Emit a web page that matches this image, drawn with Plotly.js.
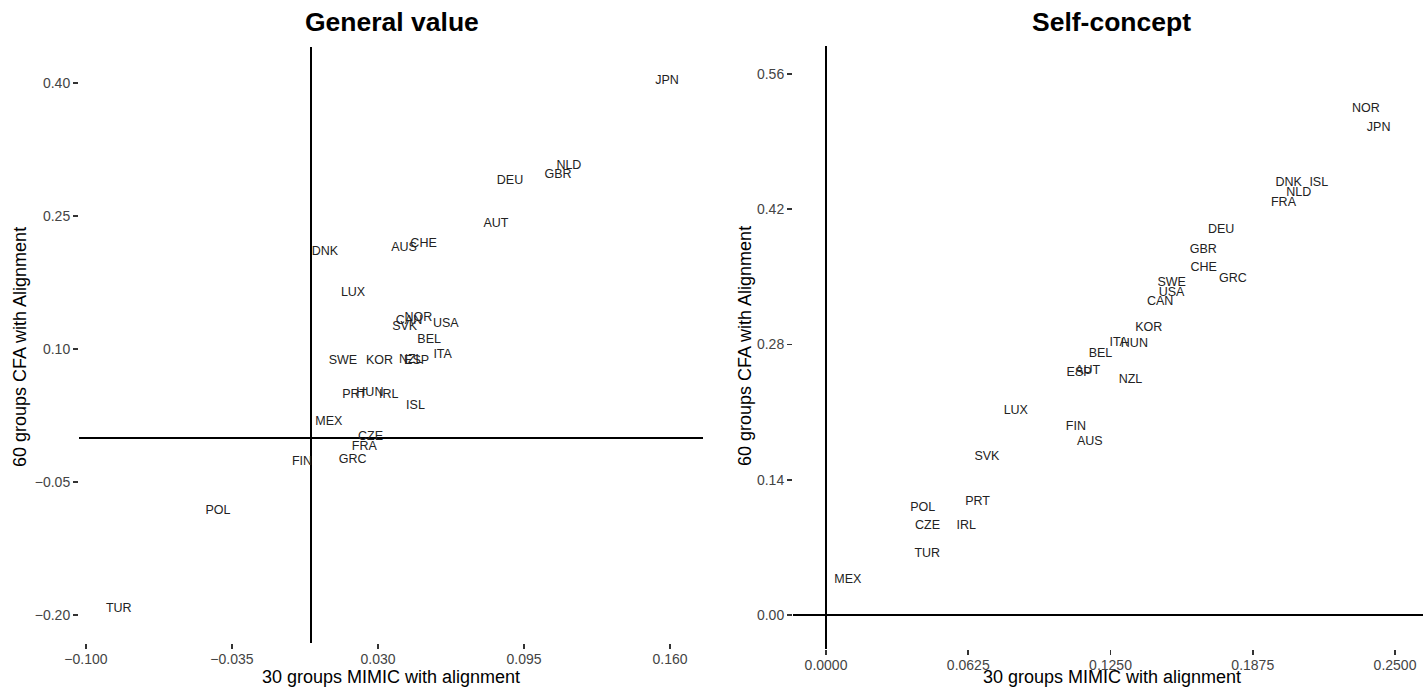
<!DOCTYPE html>
<html>
<head>
<meta charset="utf-8">
<script src="https://cdn.plot.ly/plotly-3.0.1.min.js"></script>
<style>html,body{margin:0;padding:0;background:#fff;}#chart{width:1423px;height:689px;}</style>
</head>
<body>
<div id="chart"></div>
<script>
// General value panel
const gvCountries = ["JPN","NLD","GBR","DEU","AUT","CHE","AUS","DNK","LUX","NOR","CAN","SVK","USA","BEL","ITA","SWE","KOR","NZL","ESP","PRT","HUN","IRL","ISL","MEX","CZE","FRA","GRC","FIN","POL","TUR"];
const gvX = [0.1587,0.1150,0.1102,0.0888,0.0825,0.0503,0.0416,0.0064,0.0189,0.0480,0.0438,0.0419,0.0602,0.0528,0.0588,0.0144,0.0307,0.0446,0.0472,0.0196,0.0264,0.0348,0.0467,0.0081,0.0267,0.0239,0.0187,-0.0038,-0.0412,-0.0854];
const gvY = [0.4023,0.3064,0.2963,0.2895,0.2411,0.2184,0.2139,0.2091,0.1629,0.1347,0.1320,0.1252,0.1282,0.1102,0.0933,0.0868,0.0865,0.0876,0.0871,0.0482,0.0508,0.0478,0.0361,0.0174,0.0005,-0.0101,-0.0251,-0.0268,-0.0820,-0.1931];

// Self-concept panel
const scCountries = ["NOR","JPN","DNK","ISL","NLD","FRA","DEU","GBR","CHE","GRC","SWE","USA","CAN","KOR","ITA","HUN","BEL","AUT","ESP","NZL","LUX","FIN","AUS","SVK","PRT","POL","CZE","IRL","TUR","MEX"];
const scX = [0.2372,0.2428,0.2033,0.2165,0.2077,0.2010,0.1736,0.1658,0.1659,0.1788,0.1519,0.1518,0.1468,0.1418,0.1286,0.1355,0.1206,0.1150,0.1112,0.1338,0.0834,0.1098,0.1159,0.0707,0.0666,0.0425,0.0446,0.0616,0.0445,0.0096];
const scY = [0.5235,0.5044,0.4469,0.4469,0.4365,0.4268,0.3986,0.3778,0.3589,0.3475,0.3440,0.3337,0.3243,0.2968,0.2813,0.2805,0.2702,0.2529,0.2502,0.2433,0.2112,0.1949,0.1788,0.1633,0.1167,0.1111,0.0924,0.0921,0.0631,0.0362];

// Tick labels
const gvXTicks = [-0.100,-0.035,0.030,0.095,0.160];
const gvYTicks = [0.40,0.25,0.10,-0.05,-0.20];
const scXTicks = [0.0000,0.0625,0.1250,0.1875,0.2500];
const scYTicks = [0.56,0.42,0.28,0.14,0.00];

const panelTitles = ["General value","Self-concept"];
const xTitle = "30 groups MIMIC with alignment";
const yTitle = "60 groups CFA with Alignment";

const FONT = "Liberation Sans, Arial, sans-serif";
const labelFont = {family: FONT, size: 12.5, color: "#222"};

const traces = [
  {x: gvX, y: gvY, text: gvCountries, mode: "text", type: "scatter", textposition: "middle center",
   textfont: labelFont, xaxis: "x", yaxis: "y", hoverinfo: "skip", cliponaxis: false},
  {x: scX, y: scY, text: scCountries, mode: "text", type: "scatter", textposition: "middle center",
   textfont: labelFont, xaxis: "x2", yaxis: "y2", hoverinfo: "skip", cliponaxis: false}
];

function axisBase(extra){
  return Object.assign({
    showgrid: false, showline: false, zeroline: true, zerolinecolor: "#000", zerolinewidth: 2,
    ticks: "outside", ticklen: 5, tickwidth: 1.8, tickcolor: "#333",
    tickfont: {family: FONT, size: 14, color: "#444"}, tickmode: "array", fixedrange: true
  }, extra);
}

const W = 1423, H = 689;
const px = v => v / W, py = v => 1 - v / H;

const layout = {
  width: W, height: H,
  margin: {l: 0, r: 0, t: 0, b: 0},
  paper_bgcolor: "#fff", plot_bgcolor: "#fff",
  showlegend: false, hovermode: false,
  xaxis: axisBase({domain: [px(79), px(703)], range: [-0.1031, 0.1747], tickvals: gvXTicks, tickformat: ".3f", anchor: "y", ticklabelstandoff: -2}),
  yaxis: axisBase({domain: [1 - 643/H, 1 - 47/H], range: [-0.2315, 0.4406], tickvals: gvYTicks, tickformat: ".2f", anchor: "x"}),
  xaxis2: axisBase({domain: [px(793), 1], range: [-0.0145, 0.2623], tickvals: scXTicks, tickformat: ".4f", anchor: "y2", ticklabelstandoff: -2}),
  yaxis2: axisBase({domain: [1 - 649/H, 1 - 46/H], range: [-0.0352, 0.589], tickvals: scYTicks, tickformat: ".2f", anchor: "x2"}),
  annotations: [
    {text: "<b>" + panelTitles[0] + "</b>", xref: "paper", yref: "paper", x: px(391.5), y: py(22), xanchor: "center", yanchor: "middle", showarrow: false, font: {family: FONT, size: 26.5, color: "#000"}},
    {text: "<b>" + panelTitles[1] + "</b>", xref: "paper", yref: "paper", x: px(1111), y: py(22), xanchor: "center", yanchor: "middle", showarrow: false, font: {family: FONT, size: 26.5, color: "#000"}},
    {text: xTitle, xref: "paper", yref: "paper", x: px(391), y: py(677), xanchor: "center", yanchor: "middle", showarrow: false, font: {family: FONT, size: 18, color: "#000"}},
    {text: xTitle, xref: "paper", yref: "paper", x: px(1112), y: py(677), xanchor: "center", yanchor: "middle", showarrow: false, font: {family: FONT, size: 18, color: "#000"}},
    {text: yTitle, xref: "paper", yref: "paper", x: px(20), y: py(347), xanchor: "center", yanchor: "middle", textangle: -90, showarrow: false, font: {family: FONT, size: 18, color: "#000"}},
    {text: yTitle, xref: "paper", yref: "paper", x: px(745), y: py(346), xanchor: "center", yanchor: "middle", textangle: -90, showarrow: false, font: {family: FONT, size: 18, color: "#000"}}
  ]
};

Plotly.newPlot("chart", traces, layout, {displayModeBar: false, staticPlot: true});
</script>
</body>
</html>
